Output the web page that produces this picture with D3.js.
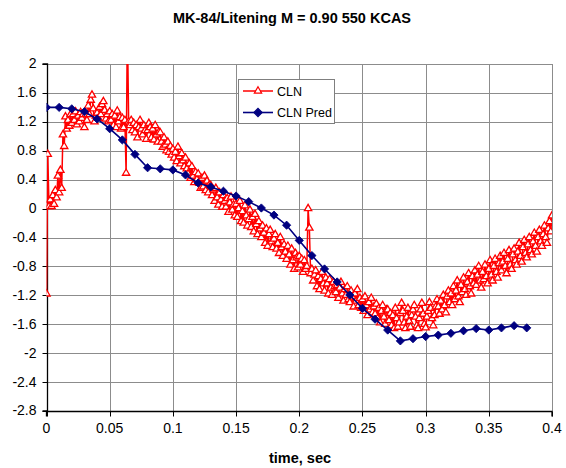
<!DOCTYPE html>
<html>
<head>
<meta charset="utf-8">
<script src="https://cdn.jsdelivr.net/npm/d3@7"></script>
<style>
  html, body { margin: 0; padding: 0; background: #fff; }
  svg { display: block; font-family: "Liberation Sans", Arial, sans-serif; }
</style>
</head>
<body>
<svg id="chart" width="566" height="468"></svg>
<script>
// Measured CLN, sampled every 1 ms from t = 0
const clnStep = 0.001;
const clnValues = [
  -1.18, 0.75, 0.03, 0.12, 0.03, 0.18, 0.06, 0.25, 0.15, 0.45,
  0.22, 0.53, 0.28, 1.02, 0.86, 1.27, 1.10, 1.22, 1.14, 1.30,
  1.18, 1.30, 1.22, 1.34, 1.16, 1.28, 1.20, 1.33, 1.25, 1.30,
  1.12, 1.30, 1.22, 1.42, 1.30, 1.50, 1.57, 1.38, 1.20, 1.28,
  1.32, 1.25, 1.40, 1.30, 1.44, 1.48, 1.36, 1.24, 1.30, 1.20,
  1.34, 1.22, 1.30, 1.15, 1.28, 1.12, 1.35, 1.20, 1.26, 1.10,
  1.25, 1.12, 1.22, 0.49, 2.60, 1.20, 1.15, 1.22, 1.08, 1.18,
  1.05, 1.15, 0.98, 1.12, 1.22, 1.10, 1.02, 1.15, 1.08, 0.96,
  1.08, 1.18, 1.12, 0.98, 1.10, 0.95, 1.15, 1.02, 0.92, 1.06,
  1.05, 0.92, 0.85, 0.98, 0.88, 0.80, 0.92, 0.78, 0.86, 0.74,
  0.82, 0.70, 0.78, 0.65, 0.85, 0.72, 0.62, 0.76, 0.66, 0.58,
  0.70, 0.55, 0.48, 0.62, 0.42, 0.58, 0.45, 0.36, 0.50, 0.40,
  0.48, 0.35, 0.28, 0.42, 0.30, 0.45, 0.25, 0.38, 0.22, 0.33,
  0.32, 0.18, 0.26, 0.10, 0.28, 0.15, 0.05, 0.22, 0.12, 0.02,
  0.18, 0.10, 0.02, 0.14, -0.05, 0.08, 0.16, -0.02, 0.05, -0.10,
  0.06, -0.12, 0.00, 0.10, -0.18, -0.04, -0.20, 0.04, -0.10, -0.24,
  -0.15, -0.02, -0.26, -0.12, -0.32, -0.08, -0.22, -0.36, -0.18, -0.28,
  -0.40, -0.24, -0.34, -0.48, -0.28, -0.52, -0.36, -0.30, -0.46, -0.54,
  -0.42, -0.36, -0.56, -0.48, -0.62, -0.40, -0.54, -0.66, -0.50, -0.60,
  -0.70, -0.52, -0.64, -0.78, -0.56, -0.72, -0.84, -0.62, -0.68, -0.82,
  -0.66, -0.78, -0.70, -0.88, -0.72, -0.84, -0.80, 0.00, -0.27, -0.90,
  -0.84, -1.00, -0.92, -0.86, -1.08, -0.94, -1.12, -0.98, -0.88, -1.04,
  -1.14, -0.96, -1.04, -1.18, -0.98, -1.10, -1.20, -1.02, -1.08, -1.16,
  -1.06, -1.24, -1.10, -1.02, -1.18, -1.28, -1.12, -1.20, -1.08, -1.26,
  -1.30, -1.14, -1.22, -1.36, -1.18, -1.28, -1.12, -1.34, -1.24, -1.38,
  -1.26, -1.42, -1.22, -1.34, -1.48, -1.30, -1.40, -1.24, -1.44, -1.36,
  -1.46, -1.32, -1.52, -1.38, -1.58, -1.42, -1.34, -1.50, -1.60, -1.40,
  -1.40, -1.55, -1.45, -1.62, -1.48, -1.66, -1.38, -1.52, -1.64, -1.58,
  -1.45, -1.31, -1.42, -1.58, -1.66, -1.50, -1.38, -1.56, -1.64, -1.48,
  -1.40, -1.34, -1.50, -1.62, -1.66, -1.52, -1.40, -1.31, -1.46, -1.60,
  -1.65, -1.50, -1.42, -1.30, -1.38, -1.52, -1.62, -1.48, -1.36, -1.26,
  -1.36, -1.46, -1.28, -1.40, -1.20, -1.34, -1.44, -1.22, -1.14, -1.30,
  -1.18, -1.34, -1.08, -1.26, -1.14, -1.00, -1.22, -1.30, -1.06, -1.16,
  -0.96, -1.12, -1.20, -1.02, -0.90, -1.08, -1.18, -0.94, -1.04, -0.86,
  -1.06, -0.92, -0.80, -1.00, -1.10, -0.88, -0.98, -0.78, -0.94, -1.04,
  -0.84, -0.72, -0.92, -1.00, -0.80, -0.70, -0.88, -0.96, -0.76, -0.66,
  -0.86, -0.74, -0.62, -0.80, -0.90, -0.70, -0.58, -0.78, -0.84, -0.64,
  -0.56, -0.72, -0.78, -0.60, -0.48, -0.66, -0.74, -0.54, -0.44, -0.62,
  -0.68, -0.50, -0.40, -0.58, -0.64, -0.46, -0.34, -0.52, -0.60, -0.40,
  -0.30, -0.46, -0.52, -0.36, -0.24, -0.40, -0.48, -0.28, -0.18, -0.32,
  -0.10
];

// Predicted CLN, every 10 ms from t = 0
const predStep = 0.01;
const predValues = [
  1.40, 1.40, 1.38, 1.34, 1.24, 1.105, 0.95, 0.75, 0.565, 0.55,
  0.535, 0.465, 0.354, 0.30, 0.24, 0.174, 0.096, 0.008, -0.09, -0.23,
  -0.44, -0.65, -0.835, -1.015, -1.195, -1.38, -1.53, -1.68, -1.83, -1.80,
  -1.77, -1.75, -1.725, -1.69, -1.66, -1.68, -1.65, -1.62, -1.65
];

const xTicks = [0, 0.05, 0.1, 0.15, 0.2, 0.25, 0.3, 0.35, 0.4];
const yTicks = [2, 1.6, 1.2, 0.8, 0.4, 0, -0.4, -0.8, -1.2, -1.6, -2, -2.4, -2.8];
const seriesNames = ["CLN", "CLN Pred"];
const chartTitle = "MK-84/Litening M = 0.90 550 KCAS";
const xTitle = "time, sec";

const svg = d3.select("#chart");
const plotLeft = 46.5, plotRight = 552, plotTop = 64, plotBottom = 411;

const x = d3.scaleLinear().domain([0, 0.4]).range([plotLeft, plotRight]);
const y = d3.scaleLinear().domain([-2.8, 2]).range([plotBottom, plotTop]);

const cln = clnValues.map((v, i) => ({ t: i * clnStep, v }));
const pred = predValues.map((v, i) => ({ t: i * predStep, v }));

svg.append("defs").append("clipPath").attr("id", "plotClip")
  .append("rect").attr("x", plotLeft).attr("y", plotTop)
  .attr("width", plotRight - plotLeft).attr("height", plotBottom - plotTop);

// grid
const grid = svg.append("g").attr("stroke", "#8c8c8c").attr("stroke-width", 1);
grid.selectAll("line.h").data(yTicks).join("line")
  .attr("x1", plotLeft).attr("x2", plotRight)
  .attr("y1", d => Math.round(y(d)) + 0.5).attr("y2", d => Math.round(y(d)) + 0.5);
grid.selectAll("line.v").data(xTicks).join("line")
  .attr("y1", plotTop).attr("y2", plotBottom)
  .attr("x1", d => Math.round(x(d)) + 0.5).attr("x2", d => Math.round(x(d)) + 0.5);

// axes
const fmt = d => String(+d.toFixed(2));
const yAxis = svg.append("g")
  .attr("transform", `translate(${Math.round(plotLeft) + 0.5},0)`)
  .call(d3.axisLeft(y).tickValues(yTicks).tickFormat(fmt).tickSize(5).tickPadding(6).offset(0));
const xAxis = svg.append("g")
  .attr("transform", `translate(0,${Math.round(plotBottom) + 0.5})`)
  .call(d3.axisBottom(x).tickValues(xTicks).tickFormat(fmt).tickSize(5).tickPadding(7).offset(0));
[yAxis, xAxis].forEach(a => {
  a.select(".domain").attr("stroke", "#000").attr("stroke-width", 1.3);
  a.selectAll(".tick line").attr("stroke", "#000");
  a.selectAll(".tick text").attr("fill", "#000")
    .style("font-family", '"Liberation Sans", Arial, sans-serif').style("font-size", "14px");
});
xAxis.selectAll(".tick line").attr("transform", d => `translate(${Math.round(x(d)) + 0.5 - x(d)},0)`);
yAxis.selectAll(".tick line").attr("transform", d => `translate(0,${Math.round(y(d)) + 0.5 - y(d)})`);

const plot = svg.append("g").attr("clip-path", "url(#plotClip)");

// CLN measured
const triangle = d3.symbol().type(d3.symbolTriangle).size(23);
const line = d3.line().x(d => x(d.t)).y(d => y(d.v));
plot.append("path").datum(cln).attr("d", line)
  .attr("fill", "none").attr("stroke", "#ff0000").attr("stroke-width", 1.5);
plot.append("g").selectAll("path").data(cln).join("path")
  .attr("d", triangle)
  .attr("transform", d => `translate(${x(d.t)},${y(d.v)})`)
  .attr("fill", "#fff").attr("stroke", "#ff0000").attr("stroke-width", 1.3);

// CLN predicted
const diamond = d3.symbol().type(d3.symbolSquare).size(34);
plot.append("path").datum(pred).attr("d", line)
  .attr("fill", "none").attr("stroke", "#000080").attr("stroke-width", 1.6);
plot.append("g").selectAll("path").data(pred).join("path")
  .attr("d", diamond)
  .attr("transform", d => `translate(${x(d.t)},${y(d.v)}) rotate(45)`)
  .attr("fill", "#000080").attr("stroke", "#000080").attr("stroke-width", 0.8);

// titles
svg.append("text").attr("x", 292).attr("y", 23).attr("text-anchor", "middle")
  .style("font-size", "14.5px").style("font-weight", "bold").text(chartTitle);
svg.append("text").attr("x", 300).attr("y", 463).attr("text-anchor", "middle")
  .style("font-size", "14.5px").style("font-weight", "bold").text(xTitle);

// legend
const lg = svg.append("g");
lg.append("rect").attr("x", 238.5).attr("y", 79.5).attr("width", 96).attr("height", 44)
  .attr("fill", "#fff").attr("stroke", "#7f7f7f").attr("stroke-width", 1);
const legendRows = [
  { name: seriesNames[0], color: "#ff0000", sym: triangle, fill: "#fff", rot: 0, w: 1.5, cy: 91 },
  { name: seriesNames[1], color: "#000080", sym: diamond, fill: "#000080", rot: 45, w: 1.6, cy: 112.5 }
];
legendRows.forEach(r => {
  lg.append("line").attr("x1", 243).attr("x2", 273).attr("y1", r.cy).attr("y2", r.cy)
    .attr("stroke", r.color).attr("stroke-width", r.w);
  lg.append("path").attr("d", r.sym)
    .attr("transform", `translate(258,${r.cy}) rotate(${r.rot})`)
    .attr("fill", r.fill).attr("stroke", r.color).attr("stroke-width", 1.2);
  lg.append("text").attr("x", 277).attr("y", r.cy + 4.5)
    .style("font-size", "12.5px").text(r.name);
});
</script>
</body>
</html>
